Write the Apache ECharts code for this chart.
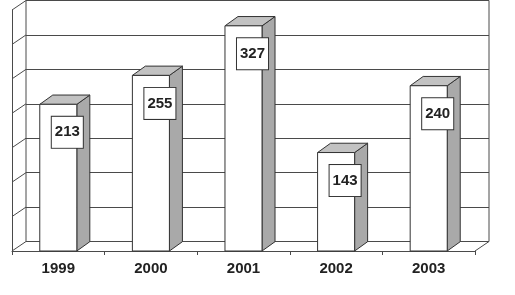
<!DOCTYPE html>
<html>
<head>
<meta charset="utf-8">
<script src="https://cdn.jsdelivr.net/npm/echarts@6/dist/echarts.min.js"></script>
<style>
html,body{margin:0;padding:0;background:#fff;}
#chart{width:515px;height:295px;}
</style>
</head>
<body>
<div id="chart"></div>
<script>
// Data
const categories = ['1999', '2000', '2001', '2002', '2003'];
const values = [213, 255, 327, 143, 240];
const yTicks = [0, 50, 100, 150, 200, 250, 300, 350];

// Depth offsets (pseudo-3D)
const DX = 14, DY = -9.5;   // wall depth
const BX = 13, BY = -9.3;   // bar depth
const LINE = '#4a4a4a';
const FONT = '"Liberation Sans", Arial, sans-serif';

const chart = echarts.init(document.getElementById('chart'), null, {renderer: 'canvas'});

const option = {
  backgroundColor: '#ffffff',
  animation: false,
  grid: [
    {left: 12, right: 40, top: 10, bottom: 44},
    {left: 26, right: 26, top: 0.5, bottom: 53.5, show: true, borderColor: LINE, borderWidth: 1, backgroundColor: 'transparent'}
  ],
  xAxis: [
    {
      gridIndex: 0, type: 'category', data: categories, boundaryGap: true,
      axisLine: {show: true, lineStyle: {color: LINE, width: 1}},
      axisTick: {show: true, length: 4, lineStyle: {color: LINE}},
      axisLabel: {color: '#222', fontFamily: FONT, fontWeight: 'bold', fontSize: 15, margin: 10}
    },
    {gridIndex: 1, type: 'category', data: categories, show: false}
  ],
  yAxis: [
    {
      gridIndex: 0, type: 'value', min: yTicks[0], max: yTicks[yTicks.length - 1], interval: 50,
      axisLine: {show: true, lineStyle: {color: LINE, width: 1}},
      axisTick: {show: false}, axisLabel: {show: false}, splitLine: {show: false}
    },
    {
      gridIndex: 1, type: 'value', min: yTicks[0], max: yTicks[yTicks.length - 1], interval: 50,
      axisLine: {show: false}, axisTick: {show: false}, axisLabel: {show: false},
      splitLine: {show: true, lineStyle: {color: LINE, width: 1}}
    }
  ],
  series: [
    {
      // left-wall and floor diagonals
      type: 'custom', xAxisIndex: 0, yAxisIndex: 0, z: 1, silent: true,
      data: yTicks.map(v => [0, v]),
      renderItem: function (params, api) {
        const cs = params.coordSys;
        const y = api.coord([0, api.value(1)])[1];
        const x0 = cs.x;
        const children = [{
          type: 'line',
          shape: {x1: x0, y1: y, x2: x0 + DX, y2: y + DY},
          style: {stroke: LINE, lineWidth: 1}
        }];
        if (api.value(1) === 0) {
          const xr = cs.x + cs.width;
          children.push({
            type: 'line',
            shape: {x1: xr, y1: y, x2: xr + DX, y2: y + DY},
            style: {stroke: LINE, lineWidth: 1}
          });
        }
        return {type: 'group', children: children};
      }
    },
    {
      // 3D bars
      type: 'custom', xAxisIndex: 0, yAxisIndex: 0, z: 5, silent: true,
      data: values.map((v, i) => [i, v]),
      encode: {x: 0, y: 1},
      renderItem: function (params, api) {
        const i = api.value(0), v = api.value(1);
        const top = api.coord([i, v]);
        const base = api.coord([i, 0]);
        const bw = api.size([1, 0])[0] * 0.4;
        const xl = top[0] - bw / 2, xr = top[0] + bw / 2;
        const yt = top[1], yb = base[1];
        return {
          type: 'group',
          children: [
            {
              type: 'polygon',
              shape: {points: [[xr, yt], [xr + BX, yt + BY], [xr + BX, yb + BY], [xr, yb]]},
              style: {fill: '#a9a9a9', stroke: '#333', lineWidth: 1}
            },
            {
              type: 'polygon',
              shape: {points: [[xl, yt], [xl + BX, yt + BY], [xr + BX, yt + BY], [xr, yt]]},
              style: {fill: '#c2c2c2', stroke: '#333', lineWidth: 1}
            },
            {
              type: 'rect',
              shape: {x: xl, y: yt, width: bw, height: yb - yt},
              style: {fill: '#ffffff', stroke: '#333', lineWidth: 1}
            },
            {
              type: 'text',
              x: top[0] + 9, y: yt + 28,
              style: {
                text: String(values[i]),
                fontFamily: FONT, fontWeight: 'bold', fontSize: 15, lineHeight: 15,
                fill: '#222', align: 'center', verticalAlign: 'middle',
                backgroundColor: '#ffffff', borderColor: '#333', borderWidth: 1,
                padding: [8, 3, 8, 3]
              }
            }
          ]
        };
      }
    }
  ]
};

chart.setOption(option);
</script>
</body>
</html>
